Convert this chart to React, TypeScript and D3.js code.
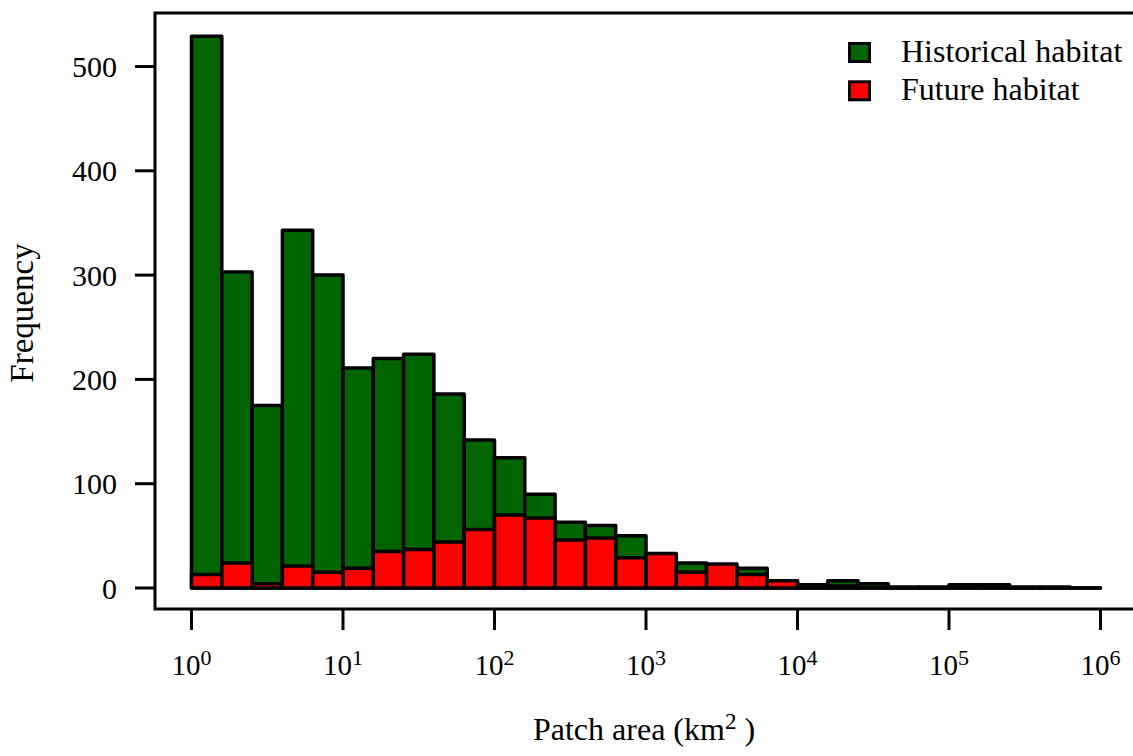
import React from "react";
import * as d3 from "d3";

const binExponents = d3.range(0, 30).map((i) => i * 0.2);
const historical = [529, 303, 175, 343, 300, 211, 220, 224, 186, 142, 125, 90, 63, 60, 50, 32, 24, 22, 19, 7, 3, 7, 4, 1, 1, 3, 3, 1, 1, 0];
const future = [13, 24, 4, 21, 15, 19, 35, 37, 44, 56, 70, 67, 46, 48, 29, 33, 15, 23, 13, 7, 0, 2, 0, 0, 0, 0, 0, 0, 0, 0];
const yTicks = [0, 100, 200, 300, 400, 500];
const xTickExponents = [0, 1, 2, 3, 4, 5, 6];
const legendItems = [
  { label: "Historical habitat", color: "#006400" },
  { label: "Future habitat", color: "#ff0000" },
];

const FONT = "'Liberation Serif', 'Times New Roman', serif";

export default function App() {
  const W = 1133, H = 756;
  const x = d3.scaleLog().domain([1, 1e6]).range([191.5, 1100.5]);
  const y = d3.scaleLinear().domain([0, 500]).range([588, 66.5]);
  const lo = (e: number) => x(Math.pow(10, e));
  const hi = (e: number) => x(Math.pow(10, e + 0.2));

  const bars = (vals: number[], color: string, key: string) =>
    vals.map((v, i) => {
      const x0 = lo(binExponents[i]);
      const x1 = hi(binExponents[i]);
      const p = d3.path();
      p.moveTo(x0, y(0));
      p.lineTo(x0, y(v));
      p.lineTo(x1, y(v));
      p.lineTo(x1, y(0));
      p.closePath();
      return (
        <path
          key={key + i}
          d={p.toString()}
          fill={color}
          stroke="#000"
          strokeWidth={3.5}
          strokeLinejoin="round"
          strokeLinecap="round"
        />
      );
    });

  return (
    <svg width={W} height={H} style={{ position: "absolute", left: 0, top: 0, background: "#fff" }} fontFamily={FONT}>
      <rect x={0} y={0} width={W} height={H} fill="#fff" />
      {bars(historical, "#006400", "h")}
      {bars(future, "#ff0000", "f")}
      <rect x={155} y={13} width={1100} height={596} fill="none" stroke="#000" strokeWidth={3} />
      {yTicks.map((t) => (
        <g key={"y" + t}>
          <line x1={135} x2={155} y1={y(t)} y2={y(t)} stroke="#000" strokeWidth={3} />
          <text x={117} y={y(t)} textAnchor="end" dominantBaseline="central" fontSize={30}>
            {t}
          </text>
        </g>
      ))}
      {xTickExponents.map((e) => (
        <g key={"x" + e}>
          <line x1={x(Math.pow(10, e))} x2={x(Math.pow(10, e))} y1={609} y2={630} stroke="#000" strokeWidth={3} />
          <text x={x(Math.pow(10, e))} y={675} textAnchor="middle" fontSize={29}>
            10
            <tspan dy={-10} fontSize={22}>{e}</tspan>
          </text>
        </g>
      ))}
      <text transform="translate(33,313) rotate(-90)" textAnchor="middle" fontSize={33}>
        Frequency
      </text>
      <text x={644} y={740} textAnchor="middle" fontSize={32}>
        Patch area (km<tspan dy={-11} fontSize={23}>2</tspan>
        <tspan dy={11}> )</tspan>
      </text>
      {legendItems.map((d, i) => (
        <g key={d.label}>
          <rect x={849.5} y={43.5 + i * 38.3} width={20} height={18} fill={d.color} stroke="#000" strokeWidth={3} />
          <text x={901} y={61.7 + i * 38.3} fontSize={32}>
            {d.label}
          </text>
        </g>
      ))}
    </svg>
  );
}
